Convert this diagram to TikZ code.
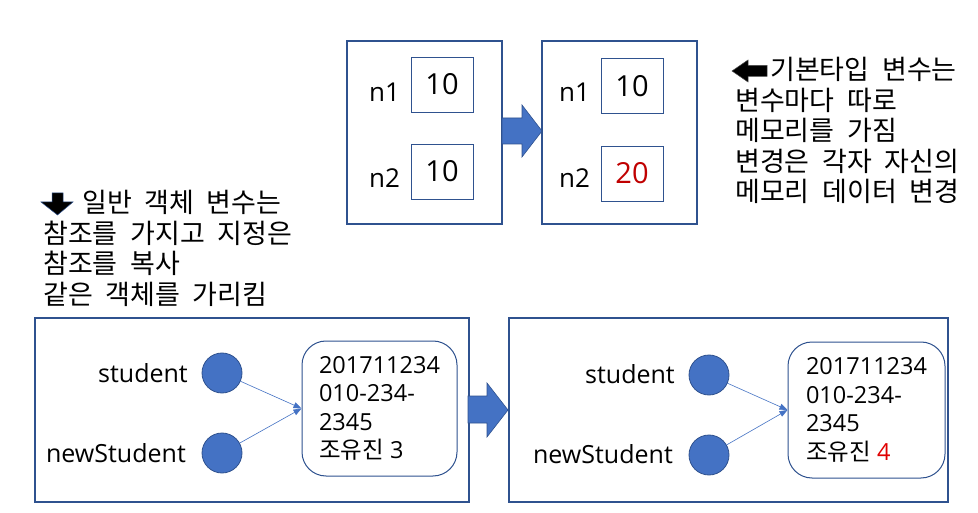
\documentclass[tikz,border=0pt]{standalone}
\usepackage{fontspec}
\setmainfont{Open Sans}
\newfontfamily\kr[WordSpace=2.1]{Noto Sans CJK KR}
\usetikzlibrary{arrows.meta}
\definecolor{bord}{HTML}{2F528F}
\definecolor{fillb}{HTML}{4472C4}
\definecolor{dred}{HTML}{C00000}
\definecolor{bred}{HTML}{E00000}
\begin{document}
\begin{tikzpicture}[x=1pt,y=-1pt,
  outer/.style={draw=bord, line width=1.1pt, inner sep=0},
  valbox/.style={draw=bord, line width=0.9pt, minimum width=62, minimum height=55, inner sep=0, font=\fontsize{29}{30}\selectfont},
  varlbl/.style={inner sep=0, font=\fontsize{26}{30}\selectfont},
  dot/.style={circle, draw=bord, fill=fillb, line width=0.8pt, minimum size=40, inner sep=0},
  objbox/.style={draw=bord, line width=1pt, rounded corners=24, inner sep=0, align=left, font=\fontsize{23.5}{28.5}\selectfont},
  reflbl/.style={inner sep=0, anchor=base east, font=\fontsize{25}{30}\selectfont},
  conn/.style={draw=fillb, line width=0.6pt, -{Triangle[length=8pt,width=6pt]}},
  blockarrow/.style={fill=fillb, draw=bord, line width=0.6pt},
  note/.style={inner sep=0, anchor=north west, align=left, font=\kr\fontsize{27}{30.5}\selectfont},
]
\useasboundingbox (0,0) rectangle (978,513);
\fill[white] (0,0) rectangle (978,513);

% ---- top: primitive variables ----
\node[outer, minimum width=155, minimum height=183] (pa) at (424.5,132.5) {};
\node[valbox] (pa1) at (442,84.5) {10};
\node[valbox] (pa2) at (442,171.5) {10};
\node[varlbl, anchor=base] (la1) at (384.5,101.5) {n1};
\node[varlbl, anchor=base] (la2) at (384.5,188) {n2};

\node[outer, minimum width=155, minimum height=183] (pb) at (619.5,132.5) {};
\node[valbox] (pb1) at (632,86) {10};
\node[valbox, text=dred] (pb2) at (632,173.5) {20};
\node[varlbl, anchor=base] (lb1) at (574.5,102) {n1};
\node[varlbl, anchor=base] (lb2) at (574.5,188) {n2};

\path[blockarrow] (502,118) -- (522,118) -- (522,105) -- (542,131) -- (522,157) -- (522,144) -- (502,144) -- cycle;

% ---- notes ----
\path[fill=black, draw=black!70, line width=0.5pt] (732,71) -- (748,60) -- (748,65.5) -- (767,65.5) -- (767,76.5) -- (748,76.5) -- (748,82) -- cycle;
\node[note] (noteR) at (735,57) {\hspace*{35pt}기본타입 변수는\\변수마다 따로\\메모리를 가짐\\변경은 각자 자신의\\메모리 데이터 변경};

\path[fill=black, draw=bord, line width=0.5pt] (52,193) -- (63,193) -- (63,202) -- (73,202) -- (57.5,215) -- (41,202) -- (52,202) -- cycle;
\node[note] (noteL) at (43,190) {\hspace*{39pt}일반 객체 변수는\\참조를 가지고 지정은\\참조를 복사\\같은 객체를 가리킴};

% ---- bottom left: reference variables ----
\node[outer, minimum width=434, minimum height=184] (ba) at (252,410) {};
\node[dot] (s1) at (222,373) {};
\node[dot] (s2) at (222,453) {};
\node[reflbl] (ls1) at (188,382) {student};
\node[reflbl] (ls2) at (186,462) {newStudent};
\node[objbox, minimum width=155, minimum height=135] (o1) at (379.5,408.5) {201711234\\010-234-\\2345\\{\kr 조유진} 3};
\draw[conn] (s1) -- (o1.west);
\draw[conn] (s2) -- (o1.west);

\path[blockarrow] (468,396) -- (487,396) -- (487,383) -- (508,410) -- (487,437) -- (487,423) -- (468,423) -- cycle;

% ---- bottom right ----
\node[outer, minimum width=439, minimum height=184] (bb) at (728.5,410) {};
\node[dot] (t1) at (709,375) {};
\node[dot] (t2) at (709,455) {};
\node[reflbl] (lt1) at (675,383) {student};
\node[reflbl] (lt2) at (673,463) {newStudent};
\node[objbox, minimum width=157, minimum height=136] (o2) at (866.5,410) {201711234\\010-234-\\2345\\{\kr 조유진} \textcolor{bred}{4}};
\draw[conn] (t1) -- (o2.west);
\draw[conn] (t2) -- (o2.west);
\end{tikzpicture}
\end{document}
